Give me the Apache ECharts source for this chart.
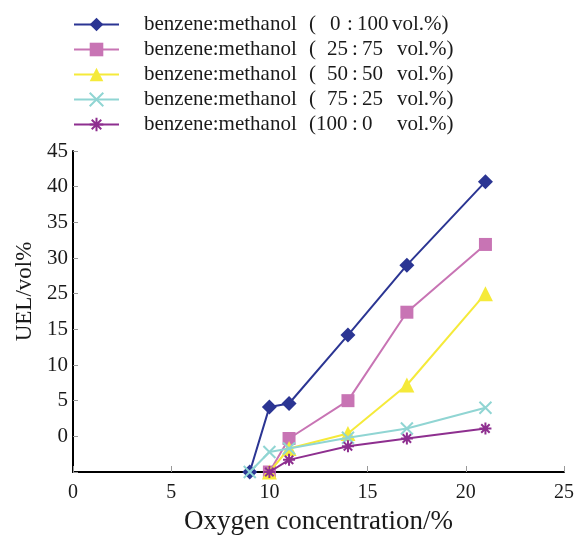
<!DOCTYPE html>
<html>
<head>
<meta charset="utf-8">
<script src="https://cdn.jsdelivr.net/npm/echarts@6/dist/echarts.min.js"></script>
<style>
  html, body { margin: 0; padding: 0; background: #fff; }
  #chart { width: 576px; height: 535px; }
</style>
</head>
<body>
<div id="chart"></div>
<script>
// legend: mixture ratios benzene : methanol
const legendNames = ['0:100', '25:75', '50:50', '75:25', '100:0']
const ratioBenzene = ['0', '25', '50', '75', '100']
const ratioMethanol = ['100', '75', '50', '25', '0']
// x values for each series (oxygen %)
const xBlue = [9, 10, 11, 14, 17, 21]
const xPink = [10, 11, 14, 17, 21]
const xYellow = [10, 11, 14, 17, 21]
const xCyan = [9, 10, 11, 14, 17, 21]
const xPurple = [10, 11, 14, 17, 21]
// y values, in axis position units (the original axis skips the label "20")
const yBlue = [0, 9.1, 9.6, 19.2, 29.0, 40.7]
const yPink = [0, 4.7, 10.0, 22.4, 31.9]
const yYellow = [0, 3.3, 5.4, 12.2, 25.0]
const yCyan = [0, 2.8, 3.3, 4.8, 6.1, 9.0]
const yPurple = [0, 1.7, 3.6, 4.7, 6.1]
// tick labels as printed, one per tick from the bottom
const yTickLabels = ['', '0', '5', '10', '15', '25', '30', '35', '40', '45']
const xTickLabels = ['0', '5', '10', '15', '20', '25']

const colors = ['#2b3593', '#c874b4', '#f5ea3a', '#90d5d3', '#8e2f8f']
const symX = 'path://M0,0L10,10M10,0L0,10'
const symStar = 'path://M5,0L5,10M0,5L10,5M1.5,1.5L8.5,8.5M8.5,1.5L1.5,8.5'

const pairs = (xs, ys) => xs.map((x, i) => [x, ys[i]])

function makeSeries(idx, xs, ys, symbol, size, stroke) {
  return {
    name: legendNames[idx],
    type: 'line',
    data: pairs(xs, ys),
    symbol: symbol,
    symbolSize: size,
    showAllSymbol: true,
    lineStyle: { color: colors[idx], width: 2 },
    itemStyle: {
      color: colors[idx],
      borderColor: colors[idx],
      borderWidth: stroke
    },
    z: 2 + idx
  }
}

function legendText(name) {
  const i = legendNames.indexOf(name)
  const first = ratioBenzene[i]
  // three-digit number sits right after the bracket, shorter ones get a gap
  let lead
  if (first.length > 2) lead = '{w|' + first + '}'
  else if (first.length === 2) lead = '{s| }{c|' + first + '}'
  else lead = '{s1| }{c1|' + first + '}'
  return '{a|benzene:methanol}{b|(}' + lead + '{d|:}{e|' + ratioMethanol[i] + '}{f|vol.%)}'
}

const myChart = echarts.init(document.getElementById('chart'))
const option = {
  animation: false,
  backgroundColor: '#fff',
  color: colors,
  textStyle: { fontFamily: 'Liberation Serif' },
  legend: {
    orient: 'vertical',
    left: 68,
    top: 9,
    itemWidth: 45,
    itemHeight: 17,
    itemGap: 4,
    data: legendNames,
    formatter: legendText,
    textStyle: {
      fontFamily: 'Liberation Serif',
      fontSize: 21,
      color: '#1a1a1a',
      lineHeight: 20,
      padding: [0, 0, 0, 20],
      rich: {
        a: { fontSize: 21, width: 165 },
        b: { fontSize: 21, width: 7 },
        s: { fontSize: 21, width: 11 },
        c: { fontSize: 21, width: 25 },
        s1: { fontSize: 21, width: 14 },
        c1: { fontSize: 21, width: 17 },
        w: { fontSize: 21, width: 36 },
        d: { fontSize: 21, width: 10 },
        e: { fontSize: 21, width: 35 },
        f: { fontSize: 21 }
      }
    }
  },
  grid: {
    left: 73,
    right: 12,
    top: 151,
    bottom: 63,
    outerBoundsMode: 'none',
    containLabel: false
  },
  xAxis: {
    type: 'value',
    min: 0,
    max: 25,
    interval: 5,
    name: 'Oxygen concentration/%',
    nameLocation: 'middle',
    nameGap: 36,
    nameTextStyle: { fontFamily: 'Liberation Serif', fontSize: 27, color: '#1a1a1a' },
    axisLine: { lineStyle: { color: '#000', width: 2 } },
    axisTick: { inside: true, length: 6, lineStyle: { color: '#999', width: 1 } },
    axisLabel: {
      margin: 11,
      fontFamily: 'Liberation Serif',
      fontSize: 20,
      color: '#1a1a1a',
      formatter: v => xTickLabels[Math.round(v / 5)]
    },
    splitLine: { show: false }
  },
  yAxis: {
    type: 'value',
    min: 0,
    max: 45,
    interval: 5,
    name: 'UEL/vol%',
    nameLocation: 'middle',
    nameGap: 36,
    nameTextStyle: {
      fontFamily: 'Liberation Serif',
      fontSize: 23,
      color: '#1a1a1a',
      padding: [0, 0, 0, 40]
    },
    axisLine: { show: true, lineStyle: { color: '#000', width: 2 } },
    axisTick: { inside: true, length: 5, lineStyle: { color: '#999', width: 1 } },
    axisLabel: {
      margin: 5,
      fontFamily: 'Liberation Serif',
      fontSize: 21,
      color: '#1a1a1a',
      formatter: v => yTickLabels[Math.round(v / 5)]
    },
    splitLine: { show: false }
  },
  series: [
    makeSeries(0, xBlue, yBlue, 'diamond', 15, 0),
    makeSeries(1, xPink, yPink, 'rect', 13, 0),
    makeSeries(2, xYellow, yYellow, 'triangle', 15, 0),
    makeSeries(3, xCyan, yCyan, symX, 12, 2),
    makeSeries(4, xPurple, yPurple, symStar, 12, 2)
  ]
}
myChart.setOption(option)
</script>
</body>
</html>
